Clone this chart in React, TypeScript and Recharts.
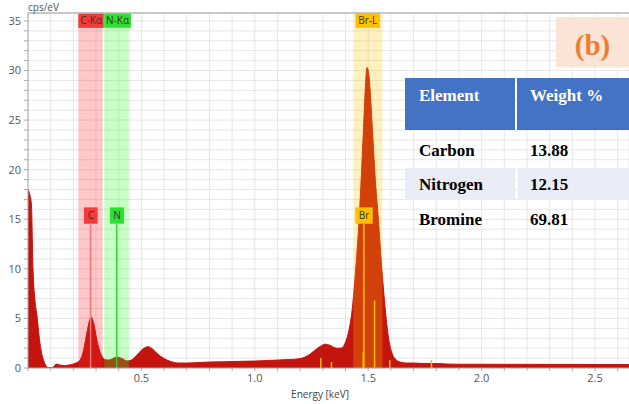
import React from "react";
import {
  ComposedChart,
  Area,
  XAxis,
  YAxis,
  CartesianGrid,
  ReferenceArea,
  ReferenceLine,
} from "recharts";

// EDS spectrum (energy in keV, counts in cps/eV)
const energy = [
  0, 0.008, 0.015, 0.022, 0.03, 0.04, 0.05, 0.06, 0.07, 0.08, 0.09, 0.1, 0.11,
  0.125, 0.14, 0.16, 0.18, 0.2, 0.215, 0.23, 0.245, 0.26, 0.27, 0.278, 0.29,
  0.303, 0.315, 0.328, 0.34, 0.355, 0.37, 0.39, 0.41, 0.44, 0.46, 0.48, 0.5,
  0.53, 0.55, 0.57, 0.6, 0.63, 0.66, 0.7, 0.75, 0.8, 0.85, 0.9, 0.95, 1.0,
  1.05, 1.1, 1.15, 1.2, 1.23, 1.26, 1.29, 1.31, 1.33, 1.36, 1.38, 1.4, 1.415,
  1.43, 1.445, 1.46, 1.47, 1.48, 1.488, 1.495, 1.502, 1.51, 1.52, 1.53, 1.545,
  1.56, 1.575, 1.59, 1.605, 1.62, 1.64, 1.67, 1.7, 1.75, 1.8, 1.85, 1.9, 2.0,
  2.1, 2.2, 2.3, 2.4, 2.5, 2.6, 2.65,
];
const cps = [
  18.0, 17.5, 16.5, 10.0, 7.0, 5.2, 3.0, 1.5, 0.7, 0.2, 0.05, 0.03, 0.08, 0.4,
  0.3, 0.25, 0.3, 0.4, 0.55, 0.8, 1.8, 3.6, 4.7, 5.15, 4.5, 2.9, 1.8, 1.1, 0.85,
  0.8, 0.9, 1.1, 1.0, 0.7, 0.85, 1.3, 1.8, 2.15, 1.9, 1.45, 0.95, 0.65, 0.5,
  0.5, 0.55, 0.6, 0.62, 0.65, 0.68, 0.7, 0.75, 0.8, 0.85, 0.95, 1.2, 1.7, 2.2,
  2.4, 2.3, 2.0, 2.0, 2.6, 3.8, 6.0, 10.0, 15.0, 19.5, 24.5, 28.5, 30.3, 29.8,
  27.5, 23.5, 19.5, 15.0, 10.0, 6.0, 3.0, 1.5, 0.9, 0.6, 0.5, 0.5, 0.45, 0.45,
  0.4, 0.38, 0.38, 0.37, 0.37, 0.36, 0.36, 0.35, 0.35, 0.35,
];

// element windows and markers
const bandNames = ["C-Kα", "N-Kα", "Br-L"];
const bandFrom = [0.222, 0.336, 1.434];
const bandTo = [0.329, 0.445, 1.563];
const markerNames = ["C", "N", "Br"];
const markerEnergy = [0.276, 0.391, 1.481];
const markerColors = ["#F07878", "#3CCB3C", "#F5C000"];
const boxColors = ["#F23A3A", "#2EE02E", "#FFC000"];
const bandColors = ["#FF2020", "#20FF20", "#FFC800"];

// small Br line positions
const lineEnergy = [1.291, 1.338, 1.478, 1.528, 1.595, 1.779];
const lineHeight = [1.0, 0.6, 1.6, 6.8, 0.8, 0.8];

// table
const elements = ["Carbon", "Nitrogen", "Bromine"];
const weights = ["13.88", "12.15", "69.81"];

const xTicks = Array.from({ length: 27 }, (_, i) => Math.round(i * 10) / 100);
const yTicks = Array.from({ length: 36 }, (_, i) => i);

const data = energy.map((e, i) => ({ e, cps: cps[i] }));

const serif = "'Liberation Serif', 'Times New Roman', serif";
const sans = "'Open Sans', 'DejaVu Sans', sans-serif";

export default function App() {
  return (
    <div
      style={{
        position: "absolute",
        left: 0,
        top: 0,
        width: 629,
        height: 404,
        background: "#fff",
        fontFamily: sans,
        overflow: "hidden",
      }}
    >
      <ComposedChart
        width={629}
        height={404}
        data={data}
        margin={{ top: 13, right: 0, bottom: 0, left: 0 }}
      >
        <CartesianGrid stroke="#E6E6E6" strokeWidth={1} />
        <XAxis
          dataKey="e"
          type="number"
          domain={[0, 2.65]}
          ticks={xTicks}
          interval={0}
          allowDataOverflow
          height={36}
          tickSize={3}
          tickMargin={3}
          stroke="#A8A8A8"
          tick={{ fill: "#555", fontSize: 11 }}
          tickFormatter={(v: number) =>
            v > 0 && Math.abs(v * 2 - Math.round(v * 2)) < 1e-6 ? v.toFixed(1) : ""
          }
        />
        <YAxis
          type="number"
          domain={[0, 35.8]}
          ticks={yTicks}
          interval={0}
          allowDataOverflow
          width={28}
          tickSize={4}
          tickMargin={3}
          stroke="#A8A8A8"
          tick={{ fill: "#555", fontSize: 11 }}
          tickFormatter={(v: number) => (v % 5 === 0 ? String(v) : "")}
        />
        <ReferenceLine y={35.8} stroke="#B8B8B8" strokeWidth={1.5} ifOverflow="visible" />
        <Area
          type="monotone"
          dataKey="cps"
          stroke="#C4140E"
          strokeWidth={1}
          fill="#C4140E"
          fillOpacity={1}
          isAnimationActive={false}
          dot={false}
          activeDot={false}
        />
        {bandNames.map((n, i) => (
          <ReferenceArea
            key={`band-${n}`}
            x1={bandFrom[i]}
            x2={bandTo[i]}
            fill={bandColors[i]}
            fillOpacity={0.25}
            stroke="none"
          />
        ))}
        {lineEnergy.map((e, i) => (
          <ReferenceLine
            key={`ln-${i}`}
            segment={[
              { x: e, y: 0 },
              { x: e, y: lineHeight[i] },
            ]}
            stroke="#F5C000"
            strokeWidth={1.5}
          />
        ))}
        {markerNames.map((n, i) => (
          <ReferenceLine
            key={`mk-${n}`}
            segment={[
              { x: markerEnergy[i], y: 0 },
              { x: markerEnergy[i], y: 14.5 },
            ]}
            stroke={markerColors[i]}
            strokeWidth={1.5}
          />
        ))}
        <ReferenceArea
          x1={0.247}
          x2={0.307}
          y1={14.55}
          y2={16.2}
          fill={boxColors[0]}
          fillOpacity={1}
          stroke="none"
          label={{ value: markerNames[0], position: "center", fill: "#333", fontSize: 10 }}
        />
        <ReferenceArea
          x1={0.361}
          x2={0.423}
          y1={14.55}
          y2={16.2}
          fill={boxColors[1]}
          fillOpacity={1}
          stroke="none"
          label={{ value: markerNames[1], position: "center", fill: "#333", fontSize: 10 }}
        />
        <ReferenceArea
          x1={1.443}
          x2={1.52}
          y1={14.55}
          y2={16.2}
          fill={boxColors[2]}
          fillOpacity={1}
          stroke="none"
          label={{ value: markerNames[2], position: "center", fill: "#333", fontSize: 10 }}
        />
        <ReferenceArea
          x1={0.222}
          x2={0.334}
          y1={34.3}
          y2={35.8}
          fill={boxColors[0]}
          fillOpacity={1}
          stroke="none"
          label={{ value: bandNames[0], position: "center", fill: "#333", fontSize: 10 }}
        />
        <ReferenceArea
          x1={0.336}
          x2={0.454}
          y1={34.3}
          y2={35.8}
          fill={boxColors[1]}
          fillOpacity={1}
          stroke="none"
          label={{ value: bandNames[1], position: "center", fill: "#333", fontSize: 10 }}
        />
        <ReferenceArea
          x1={1.444}
          x2={1.552}
          y1={34.3}
          y2={35.8}
          fill={boxColors[2]}
          fillOpacity={1}
          stroke="none"
          label={{ value: bandNames[2], position: "center", fill: "#333", fontSize: 10 }}
        />
      </ComposedChart>

      <div style={{ position: "absolute", left: 28, top: 0, fontSize: 10, color: "#555" }}>
        cps/eV
      </div>
      <div
        style={{
          position: "absolute",
          left: 270,
          width: 100,
          textAlign: "center",
          top: 387,
          fontSize: 10,
          color: "#444",
        }}
      >
        Energy [keV]
      </div>

      {/* (b) tag */}
      <div
        style={{
          position: "absolute",
          left: 556,
          top: 17,
          width: 73,
          height: 50,
          background: "#FBE4D5",
          color: "#ED7D31",
          fontFamily: serif,
          fontWeight: "bold",
          fontSize: 29,
          lineHeight: "56px",
          textAlign: "center",
        }}
      >
        (b)
      </div>

      {/* composition table */}
      <div style={{ position: "absolute", left: 405, top: 78, width: 110, height: 52, background: "#4472C4" }} />
      <div style={{ position: "absolute", left: 517, top: 78, width: 112, height: 52, background: "#4472C4" }} />
      <div style={{ position: "absolute", left: 405, top: 168, width: 110, height: 32, background: "#E9EBF5" }} />
      <div style={{ position: "absolute", left: 518, top: 168, width: 111, height: 32, background: "#E9EBF5" }} />
      {["Element", "Weight %"].map((h, i) => (
        <div
          key={h}
          style={{
            position: "absolute",
            left: i === 0 ? 419 : 530,
            top: 85,
            fontFamily: serif,
            fontWeight: "bold",
            fontSize: 17,
            color: "#fff",
            lineHeight: "22px",
          }}
        >
          {h}
        </div>
      ))}
      {elements.map((el, i) => (
        <React.Fragment key={el}>
          <div
            style={{
              position: "absolute",
              left: 419,
              top: [140, 174, 209][i],
              fontFamily: serif,
              fontWeight: "bold",
              fontSize: 17,
              color: "#000",
              lineHeight: "22px",
            }}
          >
            {el}
          </div>
          <div
            style={{
              position: "absolute",
              left: 530,
              top: [140, 174, 209][i],
              fontFamily: serif,
              fontWeight: "bold",
              fontSize: 17,
              color: "#000",
              lineHeight: "22px",
            }}
          >
            {weights[i]}
          </div>
        </React.Fragment>
      ))}
    </div>
  );
}
